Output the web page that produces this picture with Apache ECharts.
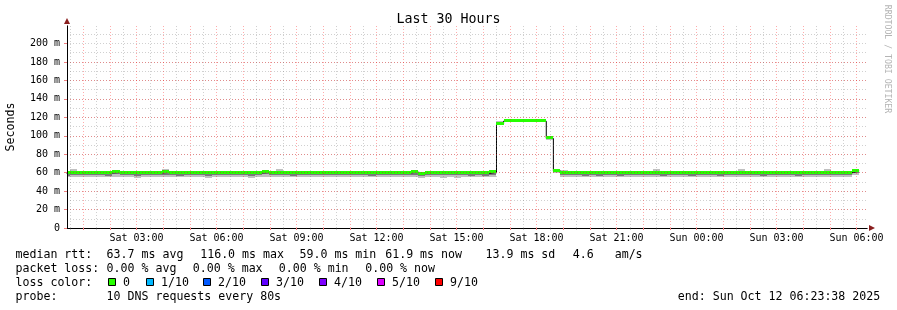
<!DOCTYPE html>
<html><head><meta charset="utf-8">
<script src="https://cdn.jsdelivr.net/npm/echarts@6/dist/echarts.min.js"></script>
<style>html,body{margin:0;padding:0;background:#fff}#c{width:897px;height:310px}</style>
</head><body><div id="c"></div>
<script>
// ---- data (hours counted from Sat 00:00) ----
const stepStartMinutes = 14;   // first RRD step boundary after Sat 00:00
const stepMinutes = 16;        // consolidation step
const medianMs = [59.8,60.1,59.7,59.9,60.0,59.6,59.8,60.2,59.9,59.7,
 59.8,60.0,59.6,59.9,60.3,59.8,59.7,60.0,59.9,59.8,
 59.6,59.9,60.1,59.8,59.7,60.0,59.9,59.8,60.2,59.9,
 59.7,59.8,60.0,59.9,59.6,59.8,60.1,59.9,59.7,59.8,
 60.0,59.9,59.8,59.7,60.1,59.9,59.8,59.6,59.9,60.5,
 59.0,59.8,59.9,59.7,60.0,59.8,59.9,59.7,59.8,59.3,
 60.4,113.0,115.8,116.0,115.7,115.9,115.6,115.8,97.2,61.8,
 59.6,59.8,59.9,59.7,60.0,59.8,59.9,60.1,59.8,59.7,
 59.9,60.0,59.8,59.6,59.9,60.1,59.8,59.9,59.7,60.0,
 59.8,59.9,60.0,59.7,59.8,60.1,59.9,59.8,59.7,59.9,
 60.0,59.8,59.9,59.7,59.8,60.0,59.9,59.8,59.7,59.9,
 59.8,61.9];
const smokeMinMs = [54.9,55.0,55.4,55.5,55.1,55.1,54.8,55.7,55.2,55.3,
 54.7,55.5,55.3,55.1,55.4,55.3,54.8,55.6,55.2,55.4,
 54.7,55.3,55.5,55.1,55.4,55.2,54.6,55.3,55.6,55.2,
 55.0,55.2,54.9,55.3,55.0,55.4,55.1,55.5,54.9,55.2,
 55.5,55.0,55.3,54.8,55.4,55.1,55.4,54.9,55.3,55.6,
 54.6,55.1,55.4,54.7,54.8,54.7,54.9,55.0,55.3,54.9,
 55.7,111.8,114.6,114.9,114.5,114.8,114.4,114.7,95.3,59.6,
 55.1,55.3,55.0,54.8,55.4,54.9,55.3,55.5,54.8,55.3,
 55.1,55.4,55.0,55.2,54.9,55.5,55.1,55.3,54.8,55.4,
 55.0,55.2,54.9,55.3,55.1,55.5,55.0,55.3,54.9,55.2,
 55.4,55.0,55.3,54.8,55.2,55.4,55.1,55.3,55.0,55.2,
 55.1,57.4];
const coreMinMs = [56.8,57.0,57.9,58.0,57.4,57.3,56.7,58.3,57.4,57.7,
 56.6,57.9,57.6,57.3,57.7,57.5,56.8,58.0,57.4,57.8,
 56.7,57.6,58.0,57.2,57.7,57.4,56.5,57.6,58.1,57.5,
 57.1,57.4,56.9,57.7,57.1,57.8,57.2,58.0,57.0,57.5,
 57.9,57.1,57.6,56.9,57.7,57.3,57.8,57.0,57.6,57.8,
 56.5,57.3,57.7,57.7,57.8,57.6,57.7,56.7,57.5,56.7,
 57.9,112.2,115.0,115.3,114.9,115.2,114.8,115.1,96.0,60.2,
 57.1,57.6,57.0,56.6,57.8,56.9,57.6,57.9,56.8,57.6,
 57.2,57.8,57.0,57.4,56.9,58.0,57.3,57.7,56.7,57.8,
 57.1,57.5,56.8,57.6,57.3,57.9,57.1,57.6,56.9,57.4,
 57.9,57.0,57.7,56.8,57.5,57.8,57.2,57.5,57.0,57.4,
 57.2,59.4];
const smokeMaxMs = [61.2,63.9,61.0,61.3,61.4,61.0,61.1,61.5,61.2,61.1,
 61.3,61.4,61.0,61.3,64.0,61.1,61.0,61.3,61.2,61.2,
 61.0,61.3,61.4,61.1,61.0,61.3,61.2,61.2,61.5,61.2,
 63.6,61.1,61.4,61.2,61.0,61.1,61.4,61.2,61.0,61.2,
 61.3,61.2,61.1,61.0,61.4,61.2,61.1,61.0,61.3,61.8,
 60.6,61.1,61.2,61.0,61.3,61.1,61.2,61.0,61.1,60.8,
 61.7,115.6,117.6,117.0,117.8,117.2,118.0,117.6,98.4,63.3,
 63.4,61.1,61.2,61.0,61.3,61.1,61.2,61.4,61.1,61.0,
 61.2,61.3,61.1,63.5,61.2,61.4,61.1,61.2,61.0,61.3,
 61.1,61.2,61.3,61.0,61.1,63.9,61.2,61.1,61.0,61.2,
 61.3,61.1,61.2,61.0,61.1,61.3,61.2,63.6,61.0,61.2,
 61.1,63.2];
const xStartHours = 23/60 + 38/3600;       // Sat 00:23:38
const xEndHours = xStartHours + 30;        // Sun 06:23:38
const labelHours = [3,6,9,12,15,18,21,24,27,30];
const yLabelValues = [0,20,40,60,80,100,120,140,160,180,200];
const rttStats = {avg:63.7, max:116.0, min:59.0, now:61.9, sd:13.9, ams:4.6};
const lossStats = {avg:0, max:0, min:0, now:0};
const lossLabels = ['0','1/10','2/10','3/10','4/10','5/10','9/10'];
const lossColors = ['#26ff00','#00b8ff','#0059ff','#5e00ff','#7e00ff','#dd00ff','#ff0000'];
const probeText = '10 DNS requests every 80s';
const endText = 'end: Sun Oct 12 06:23:38 2025';

// ---- build ----
const MONO = '"DejaVu Sans Mono", monospace';
const hourTicks = [], halfTicks = [];
for (let h = 1; h <= 30; h++) hourTicks.push(h);
for (let h = 0; h <= 30; h++) halfTicks.push(h + 0.5);
const t0 = k => (stepStartMinutes + stepMinutes * k) / 60;
const t1 = k => (stepStartMinutes + stepMinutes * (k + 1)) / 60;
const smokeOuter = medianMs.map((v, k) => [t0(k), t1(k), smokeMinMs[k], smokeMaxMs[k]]);
const smokeCore = medianMs.map((v, k) => [t0(k), t1(k), coreMinMs[k], v]);
const band = medianMs.map((v, k) => [t0(k), t1(k), v]);
const stepLine = medianMs.map((v, k) => [t0(k), v]);
stepLine.push([t1(medianMs.length - 1), medianMs[medianMs.length - 1]]);

function rectRenderer(color) {
  return function (params, api) {
    const a = api.coord([api.value(0), api.value(3)]);
    const b = api.coord([api.value(1), api.value(2)]);
    const x0 = Math.round(a[0]), x1 = Math.round(b[0]);
    const y0 = Math.round(a[1]), y1 = Math.round(b[1]);
    const cs = params.coordSys;
    const shape = echarts.graphic.clipRectByRect(
      {x: x0, y: y0, width: x1 - x0, height: Math.max(1, y1 - y0)},
      {x: cs.x, y: cs.y, width: cs.width, height: cs.height});
    return shape ? {type: 'rect', shape, style: {fill: color}} : null;
  };
}
function bandRenderer(params, api) {
  const a = api.coord([api.value(0), api.value(2)]);
  const b = api.coord([api.value(1), api.value(2)]);
  const x0 = Math.round(a[0]), x1 = Math.round(b[0]);
  const yc = Math.round(a[1]);
  const cs = params.coordSys;
  const shape = echarts.graphic.clipRectByRect(
    {x: x0, y: yc - 2, width: x1 - x0, height: 3},
    {x: cs.x, y: cs.y, width: cs.width, height: cs.height});
  return shape ? {type: 'rect', shape, style: {fill: lossColors[0]}} : null;
}
const pad = n => (n < 10 ? '0' : '') + n;
const xLabel = v => (v < 24 ? 'Sat ' : 'Sun ') + pad(Math.round(v) % 24) + ':00';

const graphics = [];
function txt(x, y, s, extra) {
  graphics.push(Object.assign({type: 'text', x: x, y: y,
    style: {text: s, font: '11.6px ' + MONO, fill: '#000', verticalAlign: 'middle'}}, extra || {}));
}
const f1 = v => v.toFixed(1), f2 = v => v.toFixed(2);
txt(15.5, 254.5, 'median rtt:');
txt(106.6, 254.5, f1(rttStats.avg) + ' ms avg');
txt(200.2, 254.5, f1(rttStats.max) + ' ms max');
txt(299.5, 254.5, f1(rttStats.min) + ' ms min');
txt(385.2, 254.5, f1(rttStats.now) + ' ms now');
txt(485.5, 254.5, f1(rttStats.sd) + ' ms sd');
txt(572.8, 254.5, f1(rttStats.ams) + '   am/s');
txt(15.5, 268.5, 'packet loss:');
txt(106.6, 268.5, f2(lossStats.avg) + ' % avg');
txt(192.8, 268.5, f2(lossStats.max) + ' % max');
txt(278.8, 268.5, f2(lossStats.min) + ' % min');
txt(365.2, 268.5, f2(lossStats.now) + ' % now');
txt(15.5, 282.5, 'loss color:');
const boxX = [108, 145.5, 203, 261, 318.5, 376.5, 435];
lossLabels.forEach((l, i) => {
  graphics.push({type: 'rect', shape: {x: Math.round(boxX[i]) + 0.5, y: 278.5, width: 7, height: 7},
    style: {fill: lossColors[i], stroke: '#000', lineWidth: 1}});
  txt(Math.round(boxX[i]) + 15, 282.5, l);
});
txt(15.5, 296.5, 'probe:');
txt(106.6, 296.5, probeText);
txt(677.8, 296.5, endText);
graphics.push({type: 'text', x: 887, y: 59, rotation: -Math.PI / 2,
  style: {text: 'RRDTOOL / TOBI OETIKER', font: '8.2px ' + MONO, fill: '#b4b4b4',
    align: 'center', verticalAlign: 'middle'}});

const majorColor = 'rgba(255,0,0,0.33)';
const minorColor = 'rgba(110,110,110,0.32)';
const arrowColor = '#8a1f1f';
const axisBase = {type: 'value', z: 10, min: xStartHours, max: xEndHours, position: 'bottom'};

const chart = echarts.init(document.getElementById('c'), null, {renderer: 'canvas'});
chart.setOption({
  animation: false,
  backgroundColor: '#ffffff',
  title: {text: 'Last 30 Hours', left: 'center', top: 13, padding: 0,
    textStyle: {fontFamily: MONO, fontSize: 13.3, fontWeight: 'normal', color: '#000'}},
  grid: {left: 67, top: 26, width: 800, height: 202, containLabel: false, outerBoundsMode: 'none'},
  xAxis: [
    Object.assign({}, axisBase, {
      axisLine: {show: true, onZero: false, lineStyle: {color: arrowColor, width: 1},
        symbol: ['none', 'triangle'], symbolSize: [6, 6], symbolOffset: [0, 5]},
      axisTick: {show: true, customValues: halfTicks, length: 2, lineStyle: {color: minorColor}},
      axisLabel: {show: false},
      splitLine: {show: true, customValues: halfTicks, lineStyle: {color: minorColor, type: [1, 2], width: 1}}
    }),
    Object.assign({}, axisBase, {
      axisLine: {show: true, onZero: false, lineStyle: {color: '#000', width: 1}},
      axisTick: {show: true, customValues: hourTicks, length: 2, lineStyle: {color: '#f08080'}},
      axisLabel: {show: true, customValues: labelHours, formatter: xLabel, margin: 5,
        fontFamily: MONO, fontSize: 10, color: '#000'},
      splitLine: {show: true, customValues: hourTicks, lineStyle: {color: majorColor, type: [1, 2], width: 1}}
    })
  ],
  yAxis: [
    {type: 'value', z: 10, min: 0, max: 219, interval: 10, position: 'left',
      axisLine: {show: true, onZero: false, lineStyle: {color: arrowColor, width: 1},
        symbol: ['none', 'triangle'], symbolSize: [6, 6], symbolOffset: [0, 5]},
      axisTick: {show: false}, axisLabel: {show: false},
      splitLine: {show: true, showMinLine: false, showMaxLine: false,
        lineStyle: {color: minorColor, type: [1, 2], width: 1}}},
    {type: 'value', z: 10, min: 0, max: 219, interval: 20, position: 'left',
      name: 'Seconds', nameLocation: 'middle', nameGap: 50, nameRotate: 90,
      nameTextStyle: {fontFamily: MONO, fontSize: 11.6, color: '#000'},
      axisLine: {show: true, onZero: false, lineStyle: {color: '#000', width: 1}},
      axisTick: {show: true, customValues: yLabelValues, length: 3, lineStyle: {color: '#f08080'}},
      axisLabel: {show: true, customValues: yLabelValues, margin: 7,
        formatter: v => (v === 0 ? '0' : v + ' m'), fontFamily: MONO, fontSize: 10, color: '#000'},
      splitLine: {show: true, showMinLine: false, showMaxLine: false,
        lineStyle: {color: majorColor, type: [1, 2], width: 1}}}
  ],
  series: [
    {type: 'custom', name: 'smoke', xAxisIndex: 1, yAxisIndex: 1, z: 1, silent: true,
      renderItem: rectRenderer('#c0c0c0'), encode: {x: [0, 1], y: [2, 3]}, data: smokeOuter},
    {type: 'custom', name: 'smokeCore', xAxisIndex: 1, yAxisIndex: 1, z: 1, silent: true,
      renderItem: rectRenderer('#7a7a7a'), encode: {x: [0, 1], y: [2, 3]}, data: smokeCore},
    {type: 'line', name: 'median', xAxisIndex: 1, yAxisIndex: 1, z: 2, step: 'end',
      showSymbol: false, symbol: 'none', silent: true, clip: true,
      lineStyle: {color: '#000', width: 1}, data: stepLine},
    {type: 'custom', name: 'loss 0', xAxisIndex: 1, yAxisIndex: 1, z: 3, silent: true,
      renderItem: bandRenderer, encode: {x: [0, 1], y: 2}, data: band}
  ],
  graphic: graphics
});
</script></body></html>
